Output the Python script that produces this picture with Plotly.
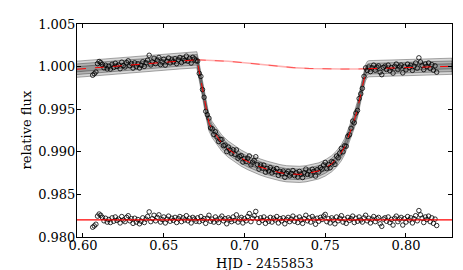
import plotly.graph_objects as go

# ---------------- data ----------------
time = [
    0.606, 0.607, 0.608, 0.609, 0.610, 0.611, 0.612, 0.613, 0.614, 0.615,
    0.616, 0.617, 0.618, 0.619, 0.620, 0.621, 0.622, 0.623, 0.624, 0.625,
    0.626, 0.627, 0.628, 0.629, 0.630, 0.631, 0.632, 0.633, 0.634, 0.635,
    0.636, 0.637, 0.638, 0.639, 0.640, 0.641, 0.642, 0.643, 0.644, 0.645,
    0.646, 0.647, 0.648, 0.649, 0.650, 0.651, 0.652, 0.653, 0.654, 0.655,
    0.656, 0.657, 0.658, 0.659, 0.660, 0.661, 0.662, 0.663, 0.664, 0.665,
    0.666, 0.667, 0.668, 0.669, 0.670, 0.671, 0.672, 0.673, 0.674, 0.675,
    0.676, 0.677, 0.678, 0.679, 0.680, 0.681, 0.682, 0.683, 0.684, 0.685,
    0.686, 0.687, 0.688, 0.689, 0.690, 0.691, 0.692, 0.693, 0.694, 0.695,
    0.696, 0.697, 0.698, 0.699, 0.700, 0.701, 0.702, 0.703, 0.704, 0.705,
    0.706, 0.707, 0.708, 0.709, 0.710, 0.711, 0.712, 0.713, 0.714, 0.715,
    0.716, 0.717, 0.718, 0.719, 0.720, 0.721, 0.722, 0.723, 0.724, 0.725,
    0.726, 0.727, 0.728, 0.729, 0.730, 0.731, 0.732, 0.733, 0.734, 0.735,
    0.736, 0.737, 0.738, 0.739, 0.740, 0.741, 0.742, 0.743, 0.744, 0.745,
    0.746, 0.747, 0.748, 0.749, 0.750, 0.751, 0.752, 0.753, 0.754, 0.755,
    0.756, 0.757, 0.758, 0.759, 0.760, 0.761, 0.762, 0.763, 0.764, 0.765,
    0.766, 0.767, 0.768, 0.769, 0.770, 0.771, 0.772, 0.773, 0.774, 0.775,
    0.776, 0.777, 0.778, 0.779, 0.780, 0.781, 0.782, 0.783, 0.784, 0.785,
    0.786, 0.787, 0.788, 0.789, 0.790, 0.791, 0.792, 0.793, 0.794, 0.795,
    0.796, 0.797, 0.798, 0.799, 0.800, 0.801, 0.802, 0.803, 0.804, 0.805,
    0.806, 0.807, 0.808, 0.809, 0.810, 0.811, 0.812, 0.813, 0.814, 0.815,
    0.816, 0.817, 0.818, 0.819,
]

flux = [
    0.99899, 0.99916, 0.99937, 1.00034, 1.00060, 1.00047, 1.00023, 0.99985, 1.00016, 0.99973,
    1.00005, 0.99971, 1.00027, 0.99989, 1.00040, 1.00002, 1.00019, 0.99975, 1.00052, 1.00013,
    0.99995, 1.00046, 1.00068, 1.00009, 1.00036, 0.99982, 1.00044, 1.00000, 1.00032, 0.99983,
    1.00015, 1.00056, 1.00003, 1.00045, 1.00076, 1.00133, 1.00019, 1.00056, 1.00097, 1.00034,
    1.00075, 1.00107, 1.00023, 1.00055, 1.00086, 1.00018, 1.00064, 1.00101, 1.00043, 1.00079,
    1.00056, 1.00092, 1.00034, 1.00080, 1.00107, 1.00048, 1.00095, 1.00071, 1.00123, 1.00064,
    1.00096, 1.00042, 1.00109, 1.00091, 1.00067, 1.00065, 0.99920, 0.99885, 0.99730, 0.99640,
    0.99475, 0.99435, 0.99395, 0.99280, 0.99270, 0.99203, 0.99235, 0.99175, 0.99120, 0.99145,
    0.99145, 0.99072, 0.99079, 0.99002, 0.99055, 0.99021, 0.98982, 0.99023, 0.98970, 0.99022,
    0.98925, 0.98947, 0.98955, 0.98880, 0.98920, 0.98885, 0.98925, 0.98951, 0.98847, 0.98878,
    0.98900, 0.98942, 0.98850, 0.98797, 0.98845, 0.98809, 0.98843, 0.98761, 0.98805, 0.98774,
    0.98814, 0.98753, 0.98793, 0.98768, 0.98804, 0.98724, 0.98770, 0.98742, 0.98773, 0.98700,
    0.98747, 0.98770, 0.98718, 0.98747, 0.98780, 0.98720, 0.98755, 0.98705, 0.98770, 0.98737,
    0.98698, 0.98755, 0.98797, 0.98735, 0.98773, 0.98727, 0.98795, 0.98770, 0.98715, 0.98791,
    0.98761, 0.98814, 0.98798, 0.98846, 0.98875, 0.98802, 0.98850, 0.98812, 0.98885, 0.98878,
    0.98852, 0.98950, 0.98930, 0.98985, 0.99040, 0.99000, 0.99070, 0.99065, 0.99180, 0.99200,
    0.99275, 0.99360, 0.99340, 0.99455, 0.99485, 0.99625, 0.99680, 0.99745, 0.99885, 0.99985,
    0.99955, 0.99995, 0.99941, 0.99986, 1.00017, 0.99957, 0.99993, 1.00008, 0.99934, 0.99905,
    0.99990, 1.00006, 0.99966, 1.00017, 0.99953, 0.99988, 0.99924, 1.00004, 1.00030, 0.99965,
    0.99996, 1.00017, 0.99927, 1.00003, 0.99963, 1.00029, 0.99990, 1.00015, 0.99956, 1.00006,
    1.00042, 0.99982, 1.00103, 1.00054, 1.00014, 0.99965, 1.00030, 1.00001, 1.00042, 0.99977,
    1.00023, 0.99958, 1.00009, 0.99935,
]

# residuals, plotted shifted to the offset level
resid_offset = 0.982
resid = [
    0.98115, 0.98130, 0.98150, 0.98245, 0.98270, 0.98255, 0.98230, 0.98190, 0.98220, 0.98175,
    0.98205, 0.98170, 0.98225, 0.98185, 0.98235, 0.98195, 0.98210, 0.98165, 0.98240, 0.98200,
    0.98180, 0.98230, 0.98250, 0.98190, 0.98215, 0.98160, 0.98220, 0.98175, 0.98205, 0.98155,
    0.98185, 0.98225, 0.98170, 0.98210, 0.98240, 0.98295, 0.98180, 0.98215, 0.98255, 0.98190,
    0.98230, 0.98260, 0.98175, 0.98205, 0.98235, 0.98165, 0.98210, 0.98245, 0.98185, 0.98220,
    0.98195, 0.98230, 0.98170, 0.98215, 0.98240, 0.98180, 0.98225, 0.98200, 0.98250, 0.98190,
    0.98220, 0.98165, 0.98230, 0.98210, 0.98185, 0.98225, 0.98180, 0.98240, 0.98195, 0.98215,
    0.98160, 0.98220, 0.98255, 0.98185, 0.98210, 0.98175, 0.98235, 0.98200, 0.98170, 0.98220,
    0.98245, 0.98190, 0.98215, 0.98155, 0.98225, 0.98205, 0.98180, 0.98235, 0.98195, 0.98260,
    0.98175, 0.98210, 0.98230, 0.98165, 0.98215, 0.98190, 0.98240, 0.98275, 0.98180, 0.98220,
    0.98250, 0.98300, 0.98215, 0.98170, 0.98225, 0.98195, 0.98235, 0.98160, 0.98210, 0.98185,
    0.98230, 0.98175, 0.98220, 0.98200, 0.98240, 0.98165, 0.98215, 0.98190, 0.98225, 0.98155,
    0.98205, 0.98230, 0.98180, 0.98210, 0.98245, 0.98185, 0.98220, 0.98170, 0.98235, 0.98200,
    0.98160, 0.98215, 0.98255, 0.98190, 0.98225, 0.98175, 0.98240, 0.98210, 0.98150, 0.98220,
    0.98185, 0.98230, 0.98205, 0.98245, 0.98265, 0.98180, 0.98215, 0.98165, 0.98225, 0.98200,
    0.98155, 0.98235, 0.98190, 0.98220, 0.98250, 0.98175, 0.98210, 0.98160, 0.98230, 0.98195,
    0.98215, 0.98245, 0.98170, 0.98220, 0.98185, 0.98235, 0.98200, 0.98175, 0.98225, 0.98255,
    0.98190, 0.98220, 0.98165, 0.98210, 0.98240, 0.98180, 0.98215, 0.98230, 0.98155, 0.98125,
    0.98210, 0.98225, 0.98185, 0.98235, 0.98170, 0.98205, 0.98140, 0.98220, 0.98245, 0.98180,
    0.98210, 0.98230, 0.98140, 0.98215, 0.98175, 0.98240, 0.98200, 0.98225, 0.98165, 0.98215,
    0.98250, 0.98190, 0.98310, 0.98260, 0.98220, 0.98170, 0.98235, 0.98205, 0.98245, 0.98180,
    0.98225, 0.98160, 0.98210, 0.98135,
]

# fitted transit model (red line) and its uncertainty band
model_t = [0.5963, 0.606, 0.620, 0.640, 0.660, 0.6705, 0.671, 0.672, 0.674, 0.676,
           0.678, 0.680, 0.683, 0.686, 0.690, 0.694, 0.698, 0.702, 0.706, 0.710,
           0.714, 0.718, 0.722, 0.726, 0.730, 0.734, 0.738, 0.742, 0.746, 0.750,
           0.754, 0.757, 0.760, 0.762, 0.764, 0.766, 0.768, 0.770, 0.772, 0.774,
           0.775, 0.776, 0.777, 0.780, 0.790, 0.800, 0.810, 0.820, 0.8285]
model_f = [0.99969, 0.99984, 1.00006, 1.00036, 1.00067, 1.00080, 1.00040, 0.99940, 0.99735, 0.99515,
           0.99340, 0.99260, 0.99175, 0.99100, 0.99030, 0.98975, 0.98925, 0.98885, 0.98850, 0.98820,
           0.98795, 0.98773, 0.98755, 0.98742, 0.98735, 0.98735, 0.98742, 0.98755, 0.98776, 0.98810,
           0.98860, 0.98915, 0.98990, 0.99060, 0.99150, 0.99260, 0.99370, 0.99500, 0.99680, 0.99860,
           0.99930, 0.99965, 0.99975, 0.99977, 0.99983, 0.99988, 0.99994, 0.99999, 1.00004]
band_halfwidths = [0.00095, 0.00062, 0.00030]

# out-of-transit baseline across the transit (faint red)
base_t = [0.6705, 0.680, 0.690, 0.700, 0.710, 0.720, 0.730, 0.740, 0.750, 0.760, 0.770, 0.777]
base_f = [1.00080, 1.00075, 1.00062, 1.00045, 1.00025, 1.00005, 0.99988, 0.99978, 0.99973,
          0.99971, 0.99972, 0.99975]

x_ticks = [0.60, 0.65, 0.70, 0.75, 0.80]
x_ticktext = ["0.60", "0.65", "0.70", "0.75", "0.80"]
y_ticks = [0.980, 0.985, 0.990, 0.995, 1.000, 1.005]
y_ticktext = ["0.980", "0.985", "0.990", "0.995", "1.000", "1.005"]
x_range = [0.5963, 0.8285]
y_range = [0.980, 1.005]
x_title = "HJD - 2455853"
y_title = "relative flux"

# ---------------- figure ----------------
fig = go.Figure()

for hw in band_halfwidths:
    upper = [f + hw for f in model_f]
    lower = [f - hw for f in model_f]
    fig.add_trace(go.Scatter(
        x=model_t + model_t[::-1], y=upper + lower[::-1],
        mode="lines", fill="toself",
        fillcolor="rgba(0,0,0,0.16)",
        line=dict(color="rgba(0,0,0,0.55)", width=0.6),
        hoverinfo="skip", showlegend=False))

fig.add_trace(go.Scatter(
    x=base_t, y=base_f, mode="lines",
    line=dict(color="rgba(255,0,0,0.3)", width=1.6),
    hoverinfo="skip", showlegend=False))
fig.add_trace(go.Scatter(
    x=base_t, y=base_f, mode="lines",
    line=dict(color="rgba(255,0,0,0.55)", width=1, dash="dash"),
    hoverinfo="skip", showlegend=False))

marker = dict(symbol="circle-open", size=4.5, color="black", line=dict(width=0.8, color="black"))
fig.add_trace(go.Scatter(x=time, y=flux, mode="markers", marker=marker, showlegend=False))
fig.add_trace(go.Scatter(x=time, y=resid, mode="markers", marker=marker, showlegend=False))

fig.add_trace(go.Scatter(
    x=model_t, y=model_f, mode="lines",
    line=dict(color="red", width=1, dash="dash"),
    showlegend=False))

fig.add_hline(y=resid_offset, line=dict(color="red", width=1.3))

font = dict(family="DejaVu Serif", size=13, color="black")
axis_common = dict(
    showline=True, linecolor="black", linewidth=1, mirror="allticks",
    ticks="inside", ticklen=4, tickwidth=1, tickcolor="black",
    showgrid=False, zeroline=False, tickfont=font,
)
fig.update_xaxes(range=x_range, tickvals=x_ticks, ticktext=x_ticktext,
                 ticklabelstandoff=-4, **axis_common)
fig.update_yaxes(range=y_range, tickvals=y_ticks, ticktext=y_ticktext,
                 ticklabelstandoff=-2, **axis_common)

fig.add_annotation(text=x_title, xref="paper", yref="paper", x=0.5, y=0,
                   yshift=-26, xanchor="center", yanchor="middle",
                   showarrow=False, font=font)
fig.add_annotation(text=y_title, xref="paper", yref="paper", x=0, y=0.5,
                   xshift=-51, xanchor="center", yanchor="middle", textangle=-90,
                   showarrow=False, font=font)

fig.update_layout(
    width=463, height=270,
    margin=dict(l=69, r=19, t=16, b=41, autoexpand=False),
    plot_bgcolor="white", paper_bgcolor="white",
    font=font,
)

fig.write_html("out.html")
